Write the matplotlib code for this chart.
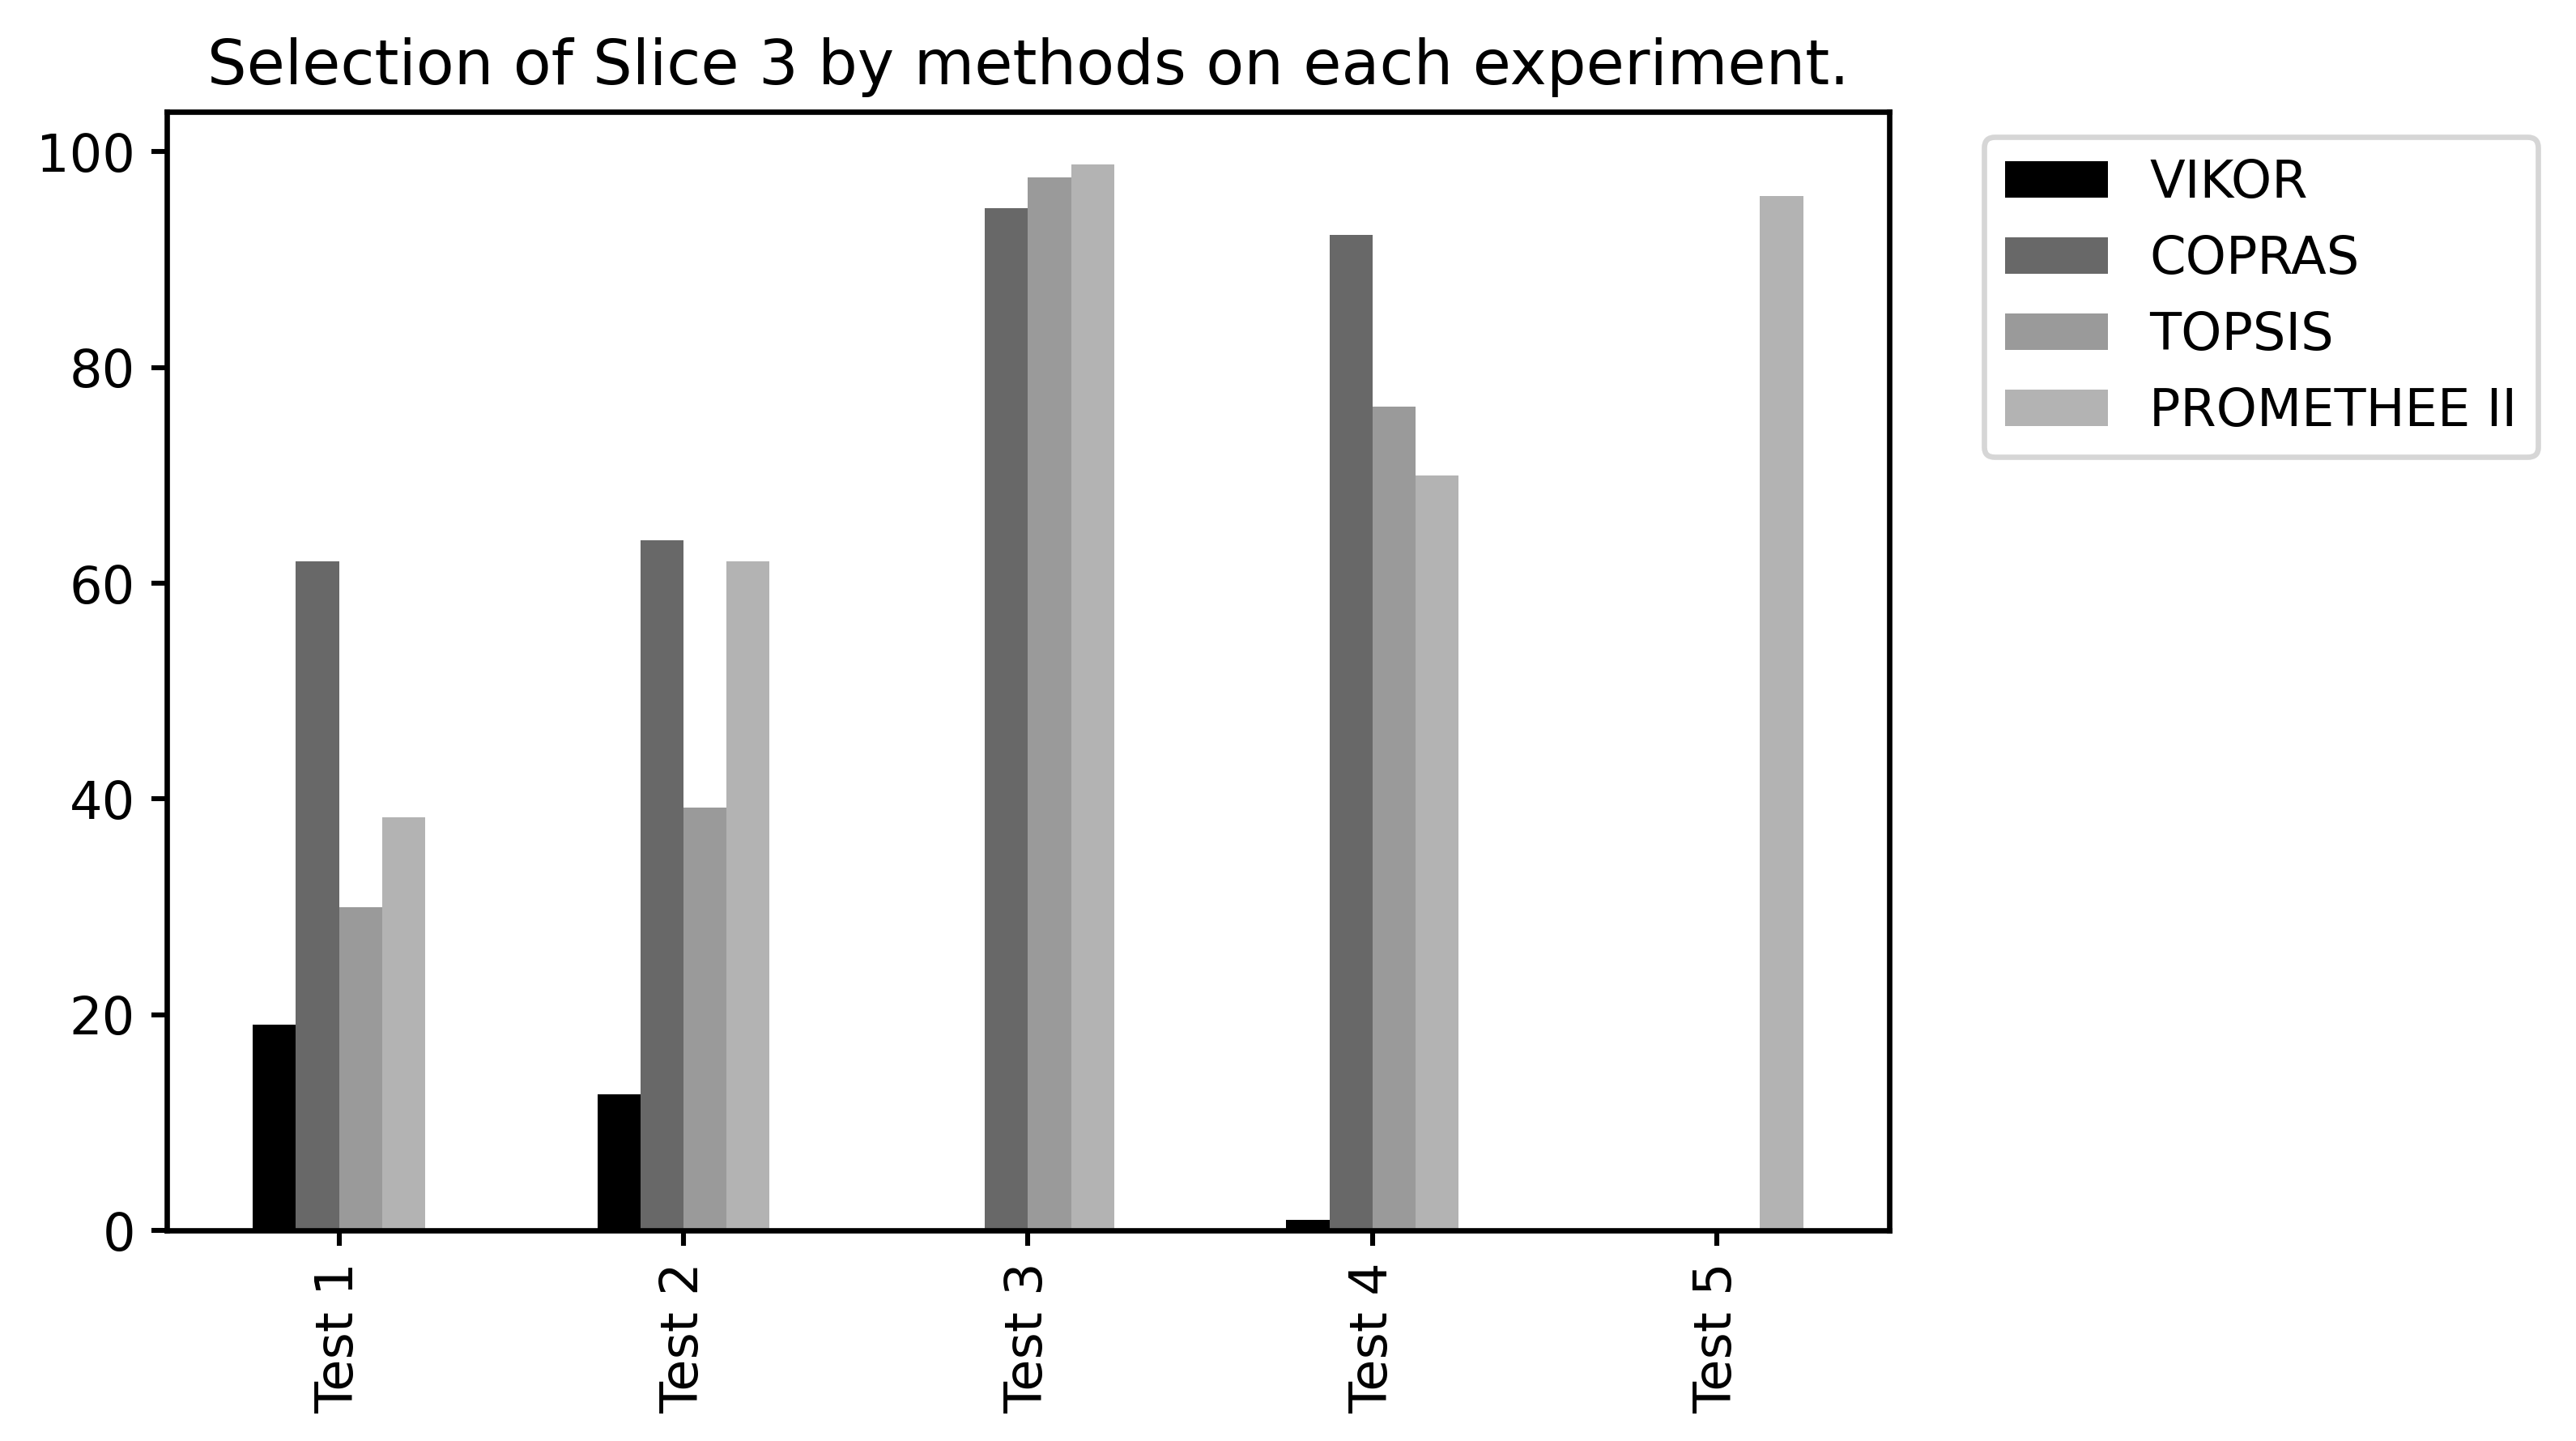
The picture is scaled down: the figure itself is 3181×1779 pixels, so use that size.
import matplotlib
matplotlib.use("Agg")
import matplotlib.pyplot as plt
import numpy as np

tests = ["Test 1", "Test 2", "Test 3", "Test 4", "Test 5"]
methods = ["VIKOR", "COPRAS", "TOPSIS", "PROMETHEE II"]
vikor = [19.1, 12.6, 0.0, 1.0, 0.0]
copras = [62.0, 64.0, 94.8, 92.3, 0.0]
topsis = [30.0, 39.2, 97.6, 76.4, 0.0]
promethee = [38.3, 62.0, 98.8, 70.0, 95.9]
colors = ["#000000", "#686868", "#9a9a9a", "#b3b3b3"]

series = [vikor, copras, topsis, promethee]

plt.rcParams["font.size"] = 11.5
plt.rcParams["axes.linewidth"] = 1.2
plt.rcParams["xtick.major.width"] = 1.1
plt.rcParams["ytick.major.width"] = 1.1
plt.rcParams["legend.edgecolor"] = "#cccccc"

fig = plt.figure(figsize=(3181/400, 1779/400), dpi=400)
ax = fig.add_axes([0.0647, 0.1461, 0.6687, 0.7766])

x = np.arange(len(tests))
w = 0.125
for i, (vals, name, c) in enumerate(zip(series, methods, colors)):
    ax.bar(x + (i - 1.5) * w, vals, width=w, color=c, label=name)

ax.set_xticks(x)
ax.set_xticklabels(tests, rotation=90)
ax.set_xlim(-0.5, len(tests) - 0.5)
ax.set_title("Selection of Slice 3 by methods on each experiment.")
leg = ax.legend(bbox_to_anchor=(1.04, 1), loc="upper left")
leg.get_frame().set_linewidth(1.2)

fig.savefig("out.png", dpi=400)
